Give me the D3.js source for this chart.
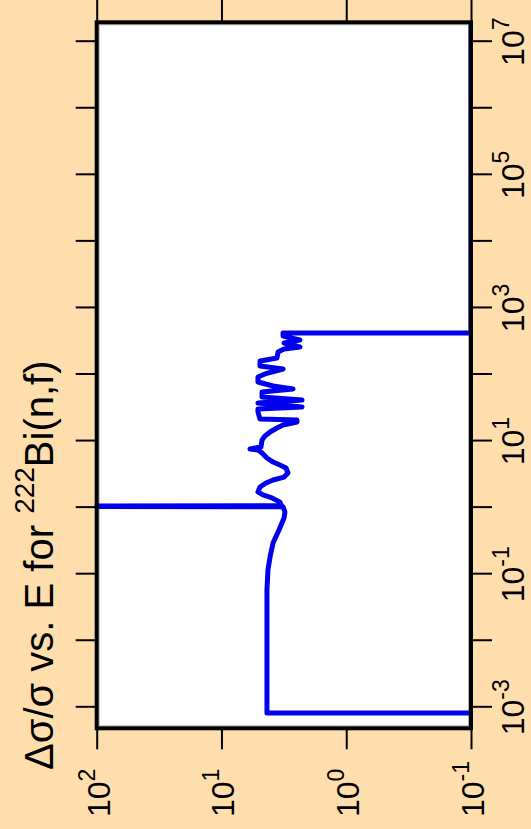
<!DOCTYPE html>
<html><head><meta charset="utf-8">
<script src="https://cdn.jsdelivr.net/npm/d3@7"></script>
<style>html,body{margin:0;padding:0;background:#ffdead;} svg{display:block;}</style>
</head><body>
<svg id="chart" width="531" height="829"></svg>
<script>
// ---- data ----
const energies = [8.2e-4, 8.2e-4, 1e-3, 1e-2, 0.0578, 0.116, 0.181, 0.294, 0.461, 0.698, 0.859, 1.03, 1.05, 1.07,
  1.21, 1.40, 1.55, 1.72, 2.04, 2.34, 2.60, 2.88, 3.31, 3.94, 4.37, 4.84, 5.56, 6.62, 7.34, 7.60, 8.15,
  10.4, 11.9, 13.7, 15.7, 17.4, 19.3, 20.7, 21.4, 27.4, 30.3, 32.5, 37.3, 41.4, 45.9, 54.6, 60.5, 67.1,
  77.1, 91.6, 102, 121, 134, 160, 177, 218, 242, 259, 297, 330, 378, 421, 421, 2e7];
const relUnc = [0.1, 4.32, 4.32, 4.32, 4.32, 4.24, 4.08, 3.86, 3.46, 3.15, 3.10, 3.21, 1000, 3.30,
  3.40, 3.94, 4.65, 5.10, 4.91, 4.40, 3.86, 3.15, 2.93, 3.04, 3.40, 3.86, 4.32, 4.73, 5.10, 5.91, 4.82,
  4.73, 4.48, 4.08, 3.59, 3.21, 2.48, 2.48, 4.91, 5.10, 5.10, 2.26, 5.10, 2.26, 4.73, 4.73, 2.67, 3.86,
  5.10, 5.10, 4.48, 3.21, 4.91, 4.91, 3.59, 3.52, 3.15, 2.35, 3.15, 2.35, 3.21, 3.21, 0.1, 0.1];
const energyTickExps = [-3, -2, -1, 0, 1, 2, 3, 4, 5, 6, 7];
const energyLabelExps = [-3, -1, 1, 3, 5, 7];
const uncTickExps = [2, 1, 0, -1];
const uncLabelExps = [2, 1, 0, -1];
const titleMain = "Δσ/σ vs. E for ";
const titleSup = "222";
const titleTail = "Bi(n,f)";

// ---- layout ----
const W = 531, H = 829;
const FONT = "'Liberation Sans', Arial, Helvetica, sans-serif";
const svg = d3.select("#chart");
svg.append("rect").attr("width", W).attr("height", H).attr("fill", "#ffdead");

// inner frame: the chart is drawn unrotated, then turned 90° counter-clockwise
const g = svg.append("g").attr("transform", `translate(0,${H}) rotate(-90)`);

const boxL = 100.7, boxR = 806.7, boxT = 96.7, boxB = 471; // inner coords

const xE = d3.scaleLog().domain([1e-3, 1e7]).range([121.7, 787.3]);
const yV = d3.scaleLog().domain([0.1, 100]).range([471, 96.7]);

// plot background
g.append("rect").attr("x", boxL + 2.5).attr("y", boxT + 2.5)
  .attr("width", boxR - boxL - 5).attr("height", boxB - boxT - 5)
  .attr("fill", "#ffffff").attr("stroke", "#b4b4b4").attr("stroke-width", 1);

// clip
g.append("clipPath").attr("id", "clip").append("rect")
  .attr("x", boxL - 2).attr("y", boxT - 2).attr("width", boxR - boxL + 4).attr("height", boxB - boxT + 4);

// data line
const pts = energies.map((e, i) => [e, relUnc[i]]);
g.append("path").datum(pts)
  .attr("clip-path", "url(#clip)")
  .attr("fill", "none").attr("stroke", "#0000ee").attr("stroke-width", 5)
  .attr("stroke-linejoin", "round")
  .attr("d", d3.line().x(d => xE(d[0])).y(d => yV(d[1])));

// frame
g.append("rect").attr("x", boxL).attr("y", boxT).attr("width", boxR - boxL).attr("height", boxB - boxT)
  .attr("fill", "none").attr("stroke", "#000").attr("stroke-width", 4);

// axes
const eTicks = energyTickExps.map(p => Math.pow(10, p));
const vTicks = uncTickExps.map(p => Math.pow(10, p));
function styleAxis(sel) {
  sel.select(".domain").remove();
  sel.selectAll(".tick line").attr("stroke", "#000").attr("stroke-width", 2);
}
g.append("g").attr("transform", `translate(0,${boxB})`)
  .call(d3.axisBottom(xE).tickValues(eTicks).tickSize(21).tickFormat("")).call(styleAxis);
g.append("g").attr("transform", `translate(0,${boxT})`)
  .call(d3.axisTop(xE).tickValues(eTicks).tickSize(21).tickFormat("")).call(styleAxis);
g.append("g").attr("transform", `translate(${boxL},0)`)
  .call(d3.axisLeft(yV).tickValues(vTicks).tickSize(21).tickFormat("")).call(styleAxis);
g.append("g").attr("transform", `translate(${boxR},0)`)
  .call(d3.axisRight(yV).tickValues(vTicks).tickSize(23).tickFormat("")).call(styleAxis);

// labels with superscripts
function powLabel(sel, p) {
  sel.append("tspan").text("10");
  sel.append("tspan").attr("font-size", 23).attr("dy", -15).text(String(p));
}
energyLabelExps.forEach(p => {
  const t = g.append("text").attr("x", xE(Math.pow(10, p))).attr("y", 524)
    .attr("text-anchor", "middle").attr("font-family", FONT).attr("font-size", 32).attr("fill", "#000");
  powLabel(t, p);
});
uncLabelExps.forEach(p => {
  const t = g.append("text").attr("x", 12).attr("y", yV(Math.pow(10, p)) + 13)
    .attr("text-anchor", "start").attr("font-family", FONT).attr("font-size", 32).attr("fill", "#000");
  powLabel(t, p);
});

// title
const title = g.append("text").attr("x", 59).attr("y", 53)
  .attr("text-anchor", "start").attr("font-family", FONT).attr("font-size", 40).attr("fill", "#000");
title.append("tspan").text(titleMain);
title.append("tspan").attr("font-size", 28).attr("dy", -19).text(titleSup);
title.append("tspan").attr("dy", 19).text(titleTail);
</script>
</body></html>
